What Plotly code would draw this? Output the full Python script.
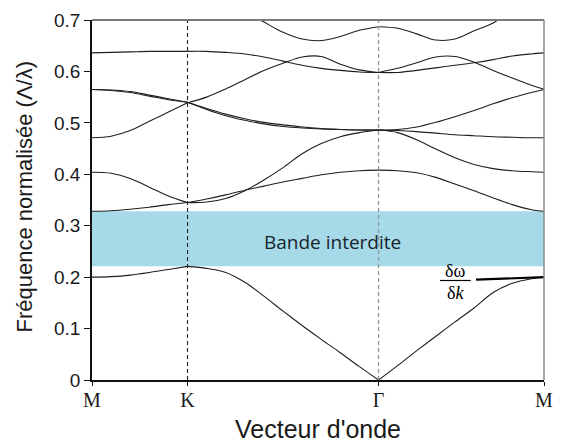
import plotly.graph_objects as go

# Path coordinate along the Brillouin-zone contour M -> K -> Gamma -> M
# (segment lengths in the hexagonal lattice: MK = 0.5, K-Gamma = 1, Gamma-M = sqrt(3)/2)
k_MK = [0.0, 0.1, 0.2, 0.3, 0.4, 0.5]
k_KG = [0.5, 0.6, 0.7, 0.8, 0.9, 1.0, 1.1, 1.2, 1.3, 1.4, 1.5]
k_GM = [1.5, 1.6, 1.7, 1.8, 1.9, 2.0, 2.1, 2.2, 2.3, 2.366]

tick_pos = [0.0, 0.5, 1.5, 2.366]
tick_text = ["M", "K", "Γ", "M"]

# Normalised frequency (Λ/λ) of each band on the three segments
band1 = dict(
    MK=[0.200, 0.201, 0.204, 0.209, 0.215, 0.221],
    KG=[0.221, 0.217, 0.209, 0.190, 0.163, 0.134, 0.106, 0.079, 0.053, 0.026, 0.000],
    GM=[0.000, 0.028, 0.057, 0.085, 0.113, 0.140, 0.170, 0.188, 0.197, 0.200],
)
band2 = dict(
    MK=[0.328, 0.329, 0.332, 0.336, 0.341, 0.345],
    KG=[0.345, 0.352, 0.360, 0.369, 0.377, 0.385, 0.392, 0.399, 0.404, 0.407, 0.408],
    GM=[0.408, 0.407, 0.403, 0.394, 0.381, 0.368, 0.354, 0.341, 0.331, 0.328],
)
band3 = dict(
    MK=[0.404, 0.402, 0.392, 0.375, 0.358, 0.345],
    KG=[0.345, 0.346, 0.353, 0.368, 0.389, 0.413, 0.440, 0.460, 0.473, 0.481, 0.486],
    GM=[0.486, 0.481, 0.467, 0.449, 0.432, 0.419, 0.411, 0.407, 0.405, 0.404],
)
band4 = dict(
    MK=[0.471, 0.474, 0.485, 0.503, 0.521, 0.539],
    KG=[0.539, 0.550, 0.566, 0.584, 0.602, 0.616, 0.628, 0.629, 0.614, 0.603, 0.598],
    GM=[0.598, 0.606, 0.617, 0.628, 0.629, 0.618, 0.602, 0.587, 0.573, 0.565],
)
band5 = dict(
    MK=[0.565, 0.564, 0.561, 0.554, 0.547, 0.540],
    KG=[0.540, 0.528, 0.517, 0.508, 0.501, 0.496, 0.492, 0.489, 0.487, 0.486, 0.486],
    GM=[0.486, 0.487, 0.492, 0.501, 0.512, 0.524, 0.537, 0.549, 0.559, 0.565],
)
band6 = dict(
    MK=[0.565, 0.563, 0.559, 0.552, 0.545, 0.540],
    KG=[0.540, 0.526, 0.514, 0.505, 0.498, 0.493, 0.490, 0.488, 0.487, 0.486, 0.486],
    GM=[0.486, 0.485, 0.483, 0.480, 0.477, 0.475, 0.473, 0.472, 0.471, 0.471],
)
band7 = dict(
    MK=[0.636, 0.637, 0.638, 0.639, 0.639, 0.639],
    KG=[0.639, 0.639, 0.637, 0.634, 0.628, 0.620, 0.612, 0.606, 0.602, 0.599, 0.598],
    GM=[0.598, 0.598, 0.602, 0.607, 0.612, 0.617, 0.623, 0.630, 0.634, 0.636],
)
band8 = dict(
    MK=[None] * 6,
    KG=[None, None, None, 0.716, 0.696, 0.676, 0.663, 0.660, 0.668, 0.680, 0.687],
    GM=[0.687, 0.684, 0.673, 0.661, 0.663, 0.679, 0.694, 0.722, None, None],
)
bands = [band1, band2, band3, band4, band5, band6, band7, band8]

# Photonic band gap between the first and second bands
gap_low = max(v for seg in band1.values() for v in seg)
gap_high = min(v for seg in band2.values() for v in seg)

# Group-velocity tangent near M on the first band
tangent_k = [2.01, 2.366]
tangent_f = [0.195, 0.200]

fig = go.Figure()

segments = [("MK", k_MK), ("KG", k_KG), ("GM", k_GM)]
for band in bands:
    for name, ks in segments:
        fig.add_trace(go.Scatter(
            x=ks, y=band[name], mode="lines",
            line=dict(color="#1e1e1e", width=1.1, shape="spline", smoothing=0.9),
            hoverinfo="skip", showlegend=False,
        ))

fig.add_trace(go.Scatter(
    x=tangent_k, y=tangent_f, mode="lines",
    line=dict(color="#000000", width=2.2),
    hoverinfo="skip", showlegend=False,
))

# Band gap rectangle
fig.add_shape(type="rect", xref="x", yref="y", x0=tick_pos[0], x1=tick_pos[-1],
              y0=gap_low, y1=gap_high, fillcolor="#a6dae8", line_width=0, layer="below")

# High-symmetry markers
fig.add_shape(type="line", xref="x", yref="paper", x0=tick_pos[1], x1=tick_pos[1], y0=0, y1=1,
              line=dict(color="#222222", width=1.1, dash="4px,3px"))
fig.add_shape(type="line", xref="x", yref="paper", x0=tick_pos[2], x1=tick_pos[2], y0=0, y1=1,
              line=dict(color="#959595", width=1.3, dash="4px,3px"))

# Top and right frame
fig.add_shape(type="line", xref="paper", yref="paper", x0=0, x1=1, y0=1, y1=1,
              line=dict(color="#7a7a7a", width=2))
fig.add_shape(type="line", xref="paper", yref="paper", x0=1, x1=1, y0=0, y1=1,
              line=dict(color="#8a8a8a", width=1.5))

# Fraction label δω/δk
bar_y = 0.1935
fig.add_shape(type="line", xref="x", yref="y", x0=1.822, x1=1.982, y0=bar_y, y1=bar_y,
              line=dict(color="#000000", width=1.2))
fig.add_annotation(x=1.902, y=bar_y, xref="x", yref="y", text="δω", showarrow=False,
                   yanchor="bottom", yshift=-3,
                   font=dict(family="Liberation Serif", size=18, color="#000"))
fig.add_annotation(x=1.902, y=bar_y, xref="x", yref="y", text="δ<i>k</i>", showarrow=False,
                   yanchor="top", yshift=-1,
                   font=dict(family="Liberation Serif", size=18, color="#000"))

fig.add_annotation(x=1.26, y=0.268, xref="x", yref="y", text="Bande interdite", showarrow=False,
                   font=dict(family="Open Sans", size=19, color="#17242c"))

# Axis titles
fig.add_annotation(x=-0.1497, y=0.508, xref="paper", yref="paper",
                   text="Fréquence normalisée (Λ/λ)", textangle=-90, showarrow=False,
                   xanchor="center", yanchor="middle",
                   font=dict(family="Liberation Sans", size=22, color="#1a1a1a"))
fig.add_annotation(x=0.5, y=-0.135, xref="paper", yref="paper",
                   text="Vecteur d'onde", showarrow=False,
                   xanchor="center", yanchor="middle",
                   font=dict(family="Liberation Sans", size=25, color="#1a1a1a"))

fig.update_xaxes(
    range=[tick_pos[0], tick_pos[-1]], tickvals=tick_pos, ticktext=tick_text,
    showgrid=False, zeroline=False, showline=True, linecolor="#111111", linewidth=1.5,
    ticks="outside", ticklen=4, tickcolor="#111111", tickwidth=1,
    ticklabelstandoff=-3,
    tickfont=dict(family="Liberation Serif", size=20, color="#1a1a1a"),
)
fig.update_yaxes(
    range=[0, 0.7], dtick=0.1, tick0=0,
    showgrid=False, zeroline=False, showline=True, linecolor="#111111", linewidth=1.5,
    ticks="outside", ticklen=6, tickcolor="#111111", tickwidth=1,
    tickfont=dict(family="Liberation Sans", size=19, color="#1a1a1a"),
)

fig.update_layout(
    width=563, height=443,
    margin=dict(l=92, r=10, t=16, b=63),
    plot_bgcolor="white", paper_bgcolor="white",
    showlegend=False,
)

fig.write_html("out.html")
